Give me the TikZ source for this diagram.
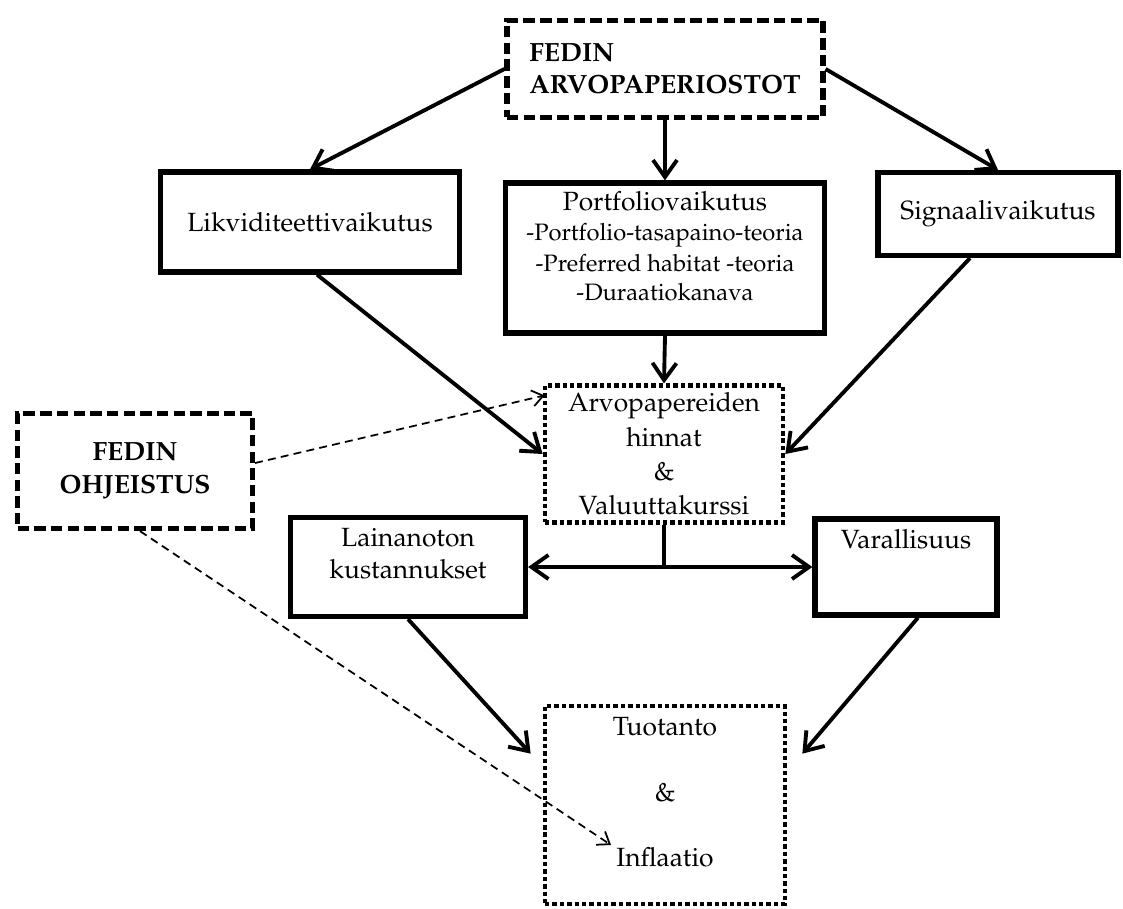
\documentclass[tikz,border=0pt]{standalone}
\usepackage[T1]{fontenc}
\usepackage{mathpazo}
\usepackage{tikz}
\usetikzlibrary{arrows.meta, positioning, calc}
\tikzset{
  sbox/.style={draw=black, line width=3pt, inner sep=4pt, align=center},
  dbox/.style={draw=black, line width=3pt, dash pattern=on 6.5pt off 3pt,
               inner sep=4pt, align=center, font=\fontsize{15}{18}\selectfont\bfseries},
  obox/.style={draw=black, line width=2.7pt, dash pattern=on 2.5pt off 1.7pt,
               inner sep=4pt, align=center},
  txt/.style={inner sep=0pt, align=center},
  barb/.tip={Straight Barb[length=3.4mm,width=4.8mm,line width=2.2pt]},
  arr/.style={-barb, line width=2.2pt},
  dblarr/.style={barb-barb, line width=2.2pt},
  darr/.style={-{Straight Barb[length=2.2mm,width=3.2mm]}, line width=1pt,
               dash pattern=on 4.5pt off 3pt},
}

\begin{document}
\begin{tikzpicture}[every node/.style={font=\fontsize{15}{18}\selectfont}, x=0.02cm, y=-0.02cm]
  \useasboundingbox (0,0) rectangle (1123,909);

  \node[dbox, align=left, minimum width=6.32cm, minimum height=1.94cm] (top) at (665,69)
    {FEDIN\\ARVOPAPERIOSTOT};

  \node[sbox, minimum width=5.98cm, minimum height=2.0cm] (likv) at (310,222) {Likviditeettivaikutus};
  \node[sbox, minimum width=6.38cm, minimum height=3.0cm] (port) at (665,258) {};
  \node[txt, anchor=north] (porttxt) at (665,191)
    {Portfoliovaikutus\\[-1pt]{\fontsize{13.5}{16}\selectfont -Portfolio-tasapaino-teoria}\\
     {\fontsize{13.5}{16}\selectfont -Preferred habitat -teoria}\\[-2pt]
     {\fontsize{13.5}{16}\selectfont -Duraatiokanava}};
  \node[sbox, minimum width=4.8cm, minimum height=1.66cm] (sig) at (998,214) {Signaalivaikutus};

  \node[obox, minimum width=4.76cm, minimum height=2.7cm] (arvo) at (664,454)
    {Arvopapereiden\\[1.5pt]hinnat\\[1.5pt]\&\\[1.5pt]Valuuttakurssi};
  \node[dbox, minimum width=4.7cm, minimum height=2.3cm] (ohj) at (135,471) {FEDIN\\[1pt]OHJEISTUS};

  \node[sbox, minimum width=4.7cm, minimum height=1.98cm] (lain) at (408,567) {};
  \node[txt, anchor=north] (laintxt) at (408,528) {Lainanoton\\kustannukset};
  \node[sbox, minimum width=3.64cm, minimum height=1.92cm] (vara) at (906,567) {};
  \node[txt, anchor=north] (varatxt) at (906,529) {Varallisuus};

  \node[obox, minimum width=4.8cm, minimum height=3.96cm] (tuot) at (665,805) {};
  \node[txt] (tuottxt) at (665,727) {Tuotanto};
  \node[txt] (et) at (665,793) {\&};
  \node[txt] (infl) at (665,857) {Inflaatio};

  \draw[arr] (top.west) -- (likv.north);
  \draw[arr] (top.south) -- (port.north);
  \draw[arr] (top.east) -- (sig.north);
  \draw[arr] ($(likv.south)+(7,0)$) -- (arvo.west);
  \draw[arr] (port.south) -- (arvo.north);
  \draw[arr] ($(sig.south)+(-28,0)$) -- (arvo.east);

  \draw[line width=2.2pt] (arvo.south) -- (arvo.south |- lain.east);
  \draw[dblarr] (lain.east) -- (vara.west);

  \draw[arr] (lain.south) -- ($(tuot.north west)+(-12,50)$);
  \draw[arr] ($(vara.south)+(12,0)$) -- ($(tuot.north east)+(15,50)$);

  \draw[darr] ($(ohj.east)+(0,-8)$) -- ($(arvo.north west)+(2,12)$);
  \draw[darr] ($(ohj.south)+(5,0)$) -- ($(infl.west)+(-5,-12)$);
\end{tikzpicture}
\end{document}
